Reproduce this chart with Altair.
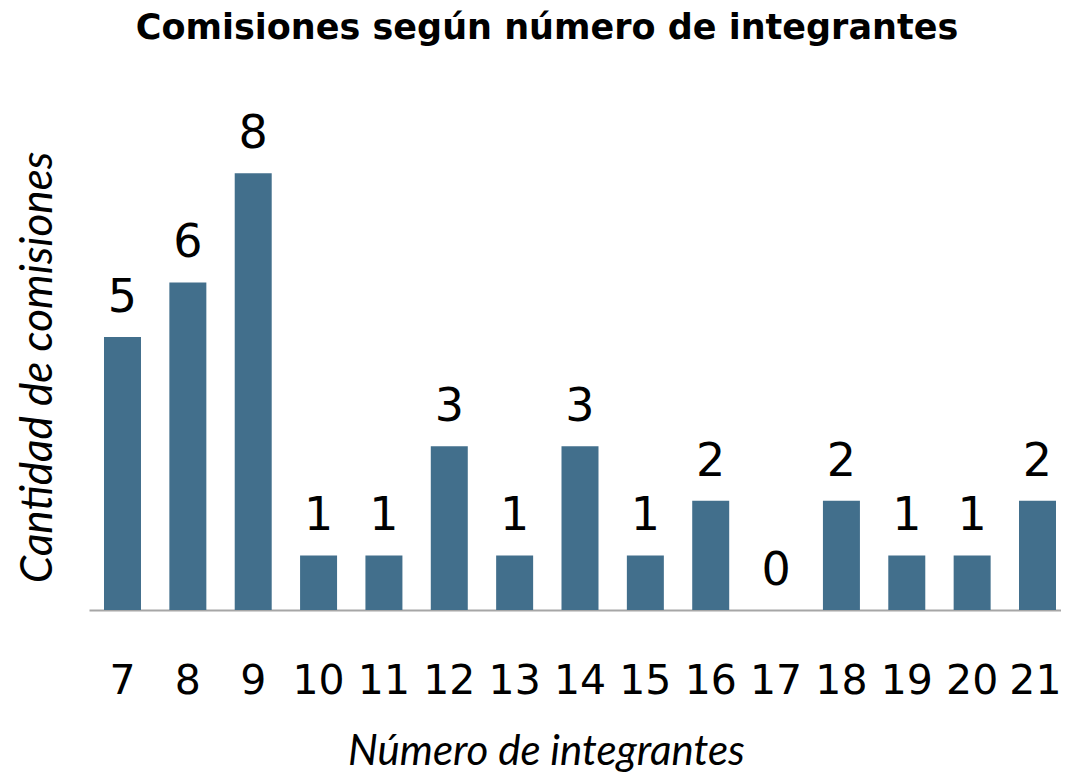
import altair as alt
import pandas as pd

categorias = ["7", "8", "9", "10", "11", "12", "13", "14", "15", "16", "17", "18", "19", "20", "21"]
valores = [5, 6, 8, 1, 1, 3, 1, 3, 1, 2, 0, 2, 1, 1, 2]

df = pd.DataFrame({"integrantes": categorias, "comisiones": valores})

DIGITS = "DejaVu Sans"
ITAL = "Lato"

x = alt.X(
    "integrantes:N",
    sort=categorias,
    scale=alt.Scale(paddingInner=0.434, paddingOuter=0.153, align=0.75),
    axis=alt.Axis(
        title="Número de integrantes",
        labelAngle=0,
        ticks=False,
        labelFontSize=41,
        labelFont=DIGITS,
        labelColor="#000000",
        labelPadding=51,
        labelAlign={"expr": "datum.value == '21' ? 'right' : 'center'"},
        labelOffset={"expr": "datum.value == '21' ? 24 : 0"},
        domainColor="#a6a6a6",
        domainWidth=2,
        titleFontSize=42,
        titleFont=ITAL,
        titleFontStyle="italic",
        titleFontWeight="normal",
        titleColor="#000000",
        titleX=457,
        titleY=154,
        titleAlign="center",
        titleBaseline="alphabetic",
    ),
)
y = alt.Y(
    "comisiones:Q",
    scale=alt.Scale(domain=[0, 10], nice=False),
    axis=alt.Axis(
        title="Cantidad de comisiones",
        labels=False,
        ticks=False,
        domain=False,
        grid=False,
        titleFontSize=44,
        titleFont=ITAL,
        titleFontStyle="italic",
        titleFontWeight="normal",
        titleColor="#000000",
        titleX=-51,
        titleY=303,
        titleBaseline="middle",
        titleAngle=-90,
        titleAlign="center",
    ),
)

base = alt.Chart(df).encode(x=x, y=y)
bars = base.mark_bar(color="#426f8c")
labels = base.mark_text(baseline="alphabetic", dy=-25, fontSize=46, font=DIGITS, color="#000000").encode(
    text="comisiones:Q"
)

chart = (
    (bars + labels)
    .properties(
        width=972,
        height=546,
        autosize=alt.AutoSizeParams(type="none"),
        padding={"left": 81, "top": 56, "right": 0, "bottom": 165},
        title=alt.TitleParams(
            "Comisiones según número de integrantes",
            fontSize=35,
            font="DejaVu Sans",
            fontWeight="bold",
            color="#000000",
            anchor="middle",
            offset=18,
            dx=-28,
        ),
    )
    .configure_view(stroke=None)
    .configure_axis(grid=False)
)

chart.save("out.html", embed_options={"renderer": "svg", "actions": False})
